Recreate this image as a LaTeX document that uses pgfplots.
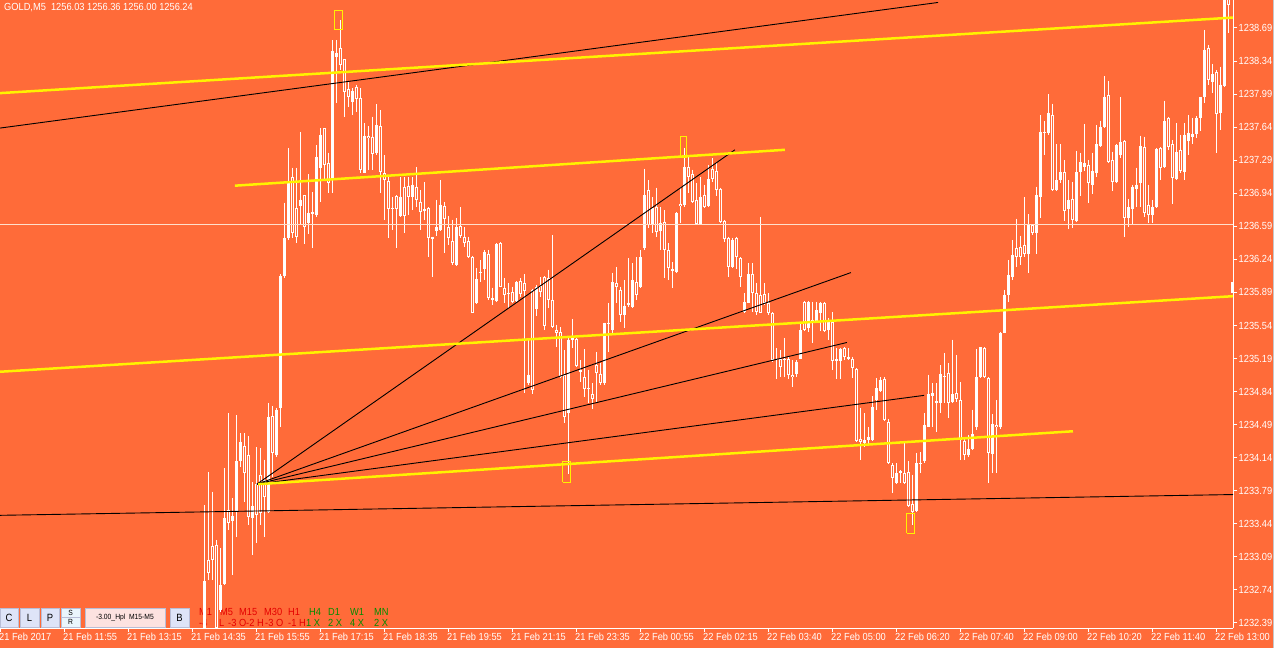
\documentclass[border=0pt]{standalone}
\usepackage{pgfplots}
\pgfplotsset{compat=1.18}
\usepackage{pgfplotstable}
\usepackage{fontspec}
\setmainfont{Liberation Sans}
\newfontfamily\mtfont[FakeStretch=0.9]{Liberation Sans}
\definecolor{bg}{RGB}{255,107,57}
\definecolor{bidc}{RGB}{255,224,204}
\definecolor{btn}{RGB}{222,228,248}
\definecolor{btnb}{RGB}{185,190,215}
\definecolor{btnp}{RGB}{253,226,224}
\definecolor{btns}{RGB}{234,245,252}
\definecolor{mtred}{RGB}{228,0,0}
\definecolor{mtgreen}{RGB}{0,140,0}
\newcommand{\mtf}{\mtfont\fontsize{9.5}{10}\selectfont}
\newcommand{\mtt}{\mtfont\fontsize{10.3}{11}\selectfont}

\pgfplotstableread{
i o h l c
51 1232.34 1233.64 1232.29 1232.83
52 1233.06 1233.99 1232.85 1232.92
53 1233.21 1233.78 1232.85 1233.06
54 1233.22 1233.27 1232.29 1232.34
55 1232.53 1233.18 1232.51 1232.79
56 1232.80 1234.03 1232.79 1233.50
57 1233.59 1234.61 1233.37 1233.45
58 1233.47 1233.71 1232.90 1233.52
59 1233.58 1234.59 1233.30 1234.10
60 1234.11 1234.40 1234.04 1234.31
61 1234.26 1234.40 1233.67 1233.98
62 1234.17 1234.37 1233.43 1233.51
63 1233.50 1233.88 1233.11 1233.63
64 1233.86 1234.25 1233.24 1233.53
65 1233.96 1234.24 1233.43 1233.55
66 1233.90 1234.12 1233.30 1233.72
67 1233.57 1234.72 1233.55 1234.57
68 1234.58 1234.69 1233.94 1234.19
69 1234.17 1234.67 1234.15 1234.65
70 1234.67 1236.08 1234.46 1236.06
71 1236.06 1236.84 1236.04 1236.47
72 1236.47 1237.42 1236.44 1237.06
73 1237.11 1237.21 1236.47 1236.52
74 1236.78 1237.21 1236.41 1236.48
75 1236.80 1237.59 1236.61 1236.87
76 1236.92 1236.92 1236.40 1236.58
77 1236.62 1237.14 1236.51 1236.73
78 1236.74 1236.95 1236.36 1236.72
79 1236.71 1237.45 1236.69 1237.32
80 1237.21 1237.63 1236.85 1237.56
81 1237.63 1237.63 1237.08 1237.24
82 1237.26 1237.37 1236.94 1237.05
83 1237.08 1238.56 1236.94 1238.45
84 1238.38 1238.56 1237.90 1238.43
85 1238.48 1238.77 1238.25 1238.30
86 1238.36 1238.36 1237.75 1238.01
87 1238.04 1238.12 1237.85 1237.96
88 1237.91 1238.05 1237.77 1238.02
89 1238.07 1238.09 1237.80 1237.94
90 1237.95 1238.05 1237.15 1237.19
91 1237.15 1237.68 1237.15 1237.55
92 1237.55 1237.65 1237.19 1237.52
93 1237.54 1237.75 1237.19 1237.36
94 1237.37 1237.88 1237.34 1237.66
95 1237.65 1237.82 1236.94 1237.16
96 1237.15 1237.34 1236.66 1237.08
97 1237.07 1237.13 1236.47 1236.77
98 1236.78 1236.90 1236.55 1236.79
99 1236.91 1236.92 1236.36 1236.77
100 1236.70 1237.11 1236.69 1236.90
101 1237.01 1237.11 1236.52 1236.70
102 1237.02 1237.11 1236.71 1236.90
103 1236.90 1237.11 1236.76 1237.03
104 1237.01 1237.22 1236.79 1236.87
105 1236.85 1236.97 1236.55 1236.74
106 1236.75 1237.06 1236.66 1236.77
107 1236.78 1236.79 1236.26 1236.47
108 1236.46 1236.48 1236.05 1236.48
109 1236.54 1236.87 1236.49 1236.58
110 1236.55 1237.08 1236.54 1236.82
111 1236.80 1236.85 1236.31 1236.67
112 1236.58 1236.70 1236.39 1236.47
113 1236.43 1236.66 1236.18 1236.20
114 1236.18 1236.68 1236.17 1236.58
115 1236.59 1236.79 1236.47 1236.49
116 1236.48 1236.58 1236.37 1236.41
117 1236.43 1236.48 1236.25 1236.26
118 1236.26 1236.28 1235.67 1235.67
119 1235.78 1236.15 1235.77 1236.03
120 1236.11 1236.23 1236.00 1236.12
121 1236.14 1236.34 1236.02 1236.32
122 1236.30 1236.34 1235.81 1235.83
123 1235.81 1235.94 1235.76 1235.83
124 1235.80 1236.41 1235.79 1236.40
125 1236.41 1236.42 1235.95 1235.95
126 1235.94 1236.04 1235.78 1235.86
127 1235.88 1235.99 1235.73 1235.87
128 1235.89 1235.95 1235.78 1235.79
129 1235.80 1236.01 1235.78 1236.00
130 1236.01 1236.04 1235.84 1235.87
131 1235.99 1236.08 1234.83 1235.90
132 1234.93 1235.41 1234.91 1235.02
133 1235.92 1235.93 1234.81 1234.86
134 1235.71 1235.97 1235.64 1235.95
135 1235.96 1236.05 1235.84 1235.89
136 1236.05 1236.06 1235.49 1235.53
137 1236.04 1236.13 1235.73 1235.81
138 1235.81 1236.50 1235.51 1235.52
139 1235.49 1235.55 1235.31 1235.46
140 1235.47 1235.52 1234.98 1234.99
141 1235.02 1235.28 1234.51 1234.57
142 1234.61 1235.41 1233.97 1235.39
143 1235.39 1235.61 1235.30 1235.42
144 1235.40 1235.41 1235.10 1235.11
145 1235.05 1235.17 1234.94 1235.07
146 1234.99 1235.29 1234.78 1234.87
147 1234.87 1235.07 1234.72 1234.88
148 1234.81 1234.93 1234.66 1234.76
149 1235.12 1235.26 1234.72 1235.04
150 1235.03 1235.14 1234.91 1234.93
151 1234.93 1235.57 1234.91 1235.57
152 1235.57 1235.78 1235.26 1235.56
153 1235.49 1236.10 1235.46 1236.00
154 1235.99 1236.16 1235.78 1235.95
155 1235.92 1235.95 1235.58 1235.65
156 1235.65 1236.02 1235.51 1235.75
157 1235.76 1236.25 1235.74 1235.78
158 1235.74 1236.20 1235.73 1236.02
159 1236.00 1236.26 1235.81 1235.86
160 1235.95 1236.34 1235.94 1236.26
161 1236.36 1237.20 1236.34 1236.92
162 1236.97 1237.08 1236.57 1236.60
163 1236.61 1236.90 1236.52 1236.78
164 1236.79 1237.00 1236.48 1236.53
165 1236.54 1236.79 1236.34 1236.63
166 1236.64 1236.76 1236.04 1236.34
167 1236.34 1236.41 1236.02 1236.15
168 1236.14 1236.21 1235.94 1236.12
169 1236.11 1236.74 1236.10 1236.73
170 1236.83 1237.01 1236.62 1236.80
171 1236.82 1237.42 1236.79 1237.22
172 1237.22 1237.32 1236.94 1237.11
173 1237.14 1237.19 1236.84 1236.85
174 1236.87 1237.05 1236.60 1236.61
175 1236.61 1237.11 1236.60 1236.90
176 1236.92 1237.03 1236.78 1236.79
177 1236.80 1237.24 1236.79 1237.09
178 1237.20 1237.31 1237.06 1237.09
179 1237.18 1237.26 1236.91 1236.97
180 1236.99 1237.00 1236.62 1236.64
181 1236.65 1236.66 1236.42 1236.46
182 1236.47 1236.48 1236.05 1236.16
183 1236.16 1236.47 1236.15 1236.44
184 1236.47 1236.48 1236.14 1236.26
185 1236.25 1236.26 1235.95 1236.05
186 1235.68 1235.88 1235.67 1235.79
187 1235.78 1236.20 1235.78 1236.08
188 1236.09 1236.20 1235.68 1235.88
189 1235.88 1235.99 1235.65 1235.68
190 1235.86 1236.69 1235.67 1235.67
191 1235.87 1235.99 1235.76 1235.78
192 1235.78 1235.88 1235.65 1235.67
193 1235.67 1235.68 1235.15 1235.17
194 1235.18 1235.30 1234.97 1235.17
195 1235.18 1235.28 1234.99 1235.10
196 1235.17 1235.41 1234.99 1235.19
197 1235.18 1235.22 1234.97 1235.02
198 1235.02 1235.17 1234.89 1234.99
199 1235.03 1235.17 1234.99 1235.15
200 1235.19 1235.57 1235.18 1235.49
201 1235.79 1235.80 1235.48 1235.49
202 1235.51 1235.80 1235.47 1235.79
203 1235.57 1235.79 1235.35 1235.60
204 1235.58 1235.79 1235.57 1235.70
205 1235.67 1235.79 1235.48 1235.78
206 1235.78 1235.79 1235.47 1235.48
207 1235.49 1235.62 1235.39 1235.59
208 1235.58 1235.68 1235.07 1235.16
209 1235.16 1235.30 1234.97 1235.18
210 1235.16 1235.30 1234.97 1235.29
211 1235.30 1235.31 1235.17 1235.21
212 1235.18 1235.30 1235.17 1235.21
213 1235.19 1235.21 1234.98 1235.09
214 1235.08 1235.09 1234.31 1234.32
215 1234.34 1234.67 1234.12 1234.31
216 1234.30 1234.61 1234.25 1234.33
217 1234.33 1234.46 1234.28 1234.36
218 1234.33 1234.79 1234.32 1234.68
219 1234.75 1234.98 1234.65 1234.88
220 1234.85 1234.99 1234.84 1234.96
221 1234.97 1234.99 1234.53 1234.54
222 1234.52 1234.55 1234.07 1234.08
223 1234.06 1234.08 1233.77 1233.93
224 1233.87 1234.08 1233.86 1233.98
225 1233.98 1234.01 1233.87 1234.00
226 1233.98 1234.31 1233.86 1233.87
227 1233.99 1234.10 1233.62 1233.63
228 1233.65 1233.96 1233.43 1233.57
229 1233.58 1234.19 1233.57 1234.08
230 1234.07 1234.20 1233.98 1234.08
231 1234.10 1234.61 1234.08 1234.49
232 1234.46 1235.02 1234.46 1234.81
233 1234.79 1234.93 1234.46 1234.82
234 1234.72 1234.93 1234.41 1234.74
235 1234.72 1235.12 1234.61 1235.03
236 1235.01 1235.25 1234.72 1235.02
237 1235.04 1235.14 1234.56 1234.72
238 1234.73 1235.39 1234.72 1234.81
239 1234.82 1235.23 1234.73 1234.76
240 1234.75 1234.94 1234.12 1234.33
241 1234.32 1234.36 1234.12 1234.17
242 1234.17 1234.38 1234.15 1234.23
243 1234.23 1234.65 1234.22 1234.39
244 1234.46 1235.29 1234.43 1234.99
245 1234.99 1235.31 1234.98 1235.31
246 1235.30 1235.31 1234.98 1234.99
247 1234.98 1234.99 1233.87 1234.19
248 1234.18 1234.60 1233.98 1234.50
249 1234.49 1234.75 1233.98 1234.46
250 1234.46 1235.47 1234.44 1235.46
251 1235.46 1235.92 1235.46 1235.86
252 1235.86 1236.23 1235.79 1236.07
253 1236.05 1236.44 1236.02 1236.29
254 1236.36 1236.67 1236.16 1236.26
255 1236.37 1236.49 1236.18 1236.27
256 1236.39 1236.90 1236.26 1236.30
257 1236.30 1236.72 1236.10 1236.61
258 1236.60 1236.61 1236.50 1236.52
259 1236.52 1237.01 1236.30 1236.92
260 1236.90 1237.77 1236.68 1237.59
261 1237.59 1237.70 1237.34 1237.60
262 1237.58 1237.99 1237.56 1237.79
263 1237.77 1237.89 1236.96 1236.97
264 1236.97 1237.46 1236.96 1237.08
265 1237.08 1237.46 1237.05 1237.16
266 1237.16 1237.29 1236.65 1236.75
267 1236.77 1237.08 1236.56 1236.87
268 1236.88 1237.06 1236.57 1236.66
269 1236.65 1237.39 1236.64 1237.16
270 1237.16 1237.37 1236.91 1237.27
271 1237.22 1237.67 1237.18 1237.26
272 1237.24 1237.29 1236.84 1237.05
273 1237.03 1237.37 1236.93 1237.18
274 1237.15 1237.66 1237.11 1237.46
275 1237.44 1237.71 1237.43 1237.64
276 1237.64 1238.18 1237.63 1237.96
277 1237.98 1238.13 1237.26 1237.27
278 1237.29 1237.38 1236.96 1237.06
279 1237.06 1237.46 1237.05 1237.45
280 1237.34 1237.96 1237.31 1237.48
281 1237.49 1237.50 1236.48 1236.68
282 1236.68 1236.88 1236.58 1236.79
283 1236.77 1237.03 1236.61 1237.01
284 1236.98 1237.21 1236.79 1237.03
285 1237.05 1237.55 1236.79 1237.44
286 1237.43 1237.54 1236.69 1236.73
287 1236.82 1237.03 1236.62 1236.71
288 1236.71 1236.87 1236.62 1236.79
289 1236.79 1237.42 1236.78 1237.41
290 1237.42 1237.43 1237.08 1237.21
291 1237.22 1237.92 1237.21 1237.71
292 1237.74 1237.75 1237.40 1237.43
293 1237.46 1237.50 1236.83 1237.10
294 1237.09 1237.68 1237.08 1237.38
295 1237.40 1237.56 1237.15 1237.18
296 1237.16 1237.68 1237.08 1237.56
297 1237.49 1237.77 1237.34 1237.58
298 1237.54 1237.74 1237.46 1237.57
299 1237.57 1237.76 1237.52 1237.74
300 1237.74 1237.96 1237.60 1237.96
301 1237.96 1238.67 1237.90 1238.46
302 1238.48 1238.51 1238.09 1238.14
303 1238.12 1238.31 1238.00 1238.20
304 1238.22 1238.24 1237.37 1237.78
305 1237.79 1238.28 1237.61 1238.09
306 1238.07 1239.30 1238.07 1239.20
307 1239.09 1239.30 1238.64 1238.93
308 1235.88 1236.00 1235.88 1236.00
}\candles

\begin{document}
\begin{tikzpicture}[x=1pt,y=1pt]
\useasboundingbox (0,0) rectangle (1274,648);
\fill[bg] (0,0) rectangle (1274,648);
\fill[black!22] (1272.5,0) rectangle (1274,648);
% title
\node[anchor=west, inner sep=0pt, text=white, font=\mtt] at (4,640) {GOLD,M5\ \ 1256.03 1256.36 1256.00 1256.24};
% buttons
\begin{scope}[draw=btnb, line width=0.6pt]
\filldraw[fill=btn] (0.3,21) rectangle (18,40);
\filldraw[fill=btn] (20,21) rectangle (39,40);
\filldraw[fill=btn] (41,21) rectangle (59,40);
\filldraw[fill=btns] (61,31) rectangle (80,40);
\filldraw[fill=btns] (61,21) rectangle (80,30.5);
\filldraw[fill=btnp] (85,21) rectangle (165,40);
\filldraw[fill=btn] (170,21) rectangle (189,40);
\end{scope}
\node[font=\mtfont\fontsize{10.5}{11}\selectfont] at (9,30.5) {C};
\node[font=\mtfont\fontsize{10.5}{11}\selectfont] at (29.5,30.5) {L};
\node[font=\mtfont\fontsize{10.5}{11}\selectfont] at (50,30.5) {P};
\node[font=\mtfont\fontsize{7.5}{8}\selectfont] at (70.5,35.5) {S};
\node[font=\mtfont\fontsize{7.5}{8}\selectfont] at (70.5,25.8) {R};
\node[font=\mtfont\fontsize{7.5}{8}\selectfont] at (125,30.5) {-3.00\_Hpl\ \ M15-M5};
\node[font=\mtfont\fontsize{10.5}{11}\selectfont] at (179.5,30.5) {B};
% timeframe indicator texts
\begin{scope}[every node/.style={anchor=west, inner sep=0pt, font=\mtt}]
\node[text=mtred] at (199,36) {M1};
\node[text=mtred] at (220,36) {M5};
\node[text=mtred] at (239,36) {M15};
\node[text=mtred] at (264,36) {M30};
\node[text=mtred] at (288,36) {H1};
\node[text=mtgreen] at (309,36) {H4};
\node[text=mtgreen] at (328,36) {D1};
\node[text=mtgreen] at (350,36) {W1};
\node[text=mtgreen] at (374,36) {MN};
\node[text=mtred] at (199,25.5) {-4};
\node[text=mtred] at (219,25.5) {L};
\node[text=mtred] at (228,25.5) {-3 O-2 H};
\node[text=mtred] at (265,25.5) {-3 O};
\node[text=mtred] at (288,25.5) {-1 H};
\node[text=mtgreen] at (306,25.5) {1 X};
\node[text=mtgreen] at (328,25.5) {2 X};
\node[text=mtgreen] at (350,25.5) {4 X};
\node[text=mtgreen] at (374,25.5) {2 X};
\end{scope}
\begin{axis}[
  at={(0pt,20pt)}, anchor=south west,
  scale only axis, width=1233pt, height=628pt,
  xmin=-0.125, xmax=308.125, ymin=1232.337, ymax=1238.986,
  axis x line*=bottom, axis y line*=right,
  axis line style={white, line width=1pt, -},
  tick align=outside, major tick length=4pt,
  tick style={white, line width=1pt},
  minor tick num=0,
  xtick={0,16,...,304},
  xticklabels={21 Feb 2017,21 Feb 11:55,21 Feb 13:15,21 Feb 14:35,21 Feb 15:55,21 Feb 17:15,21 Feb 18:35,21 Feb 19:55,21 Feb 21:15,21 Feb 23:35,22 Feb 00:55,22 Feb 02:15,22 Feb 03:40,22 Feb 05:00,22 Feb 06:20,22 Feb 07:40,22 Feb 09:00,22 Feb 10:20,22 Feb 11:40,22 Feb 13:00},
  ytick={1232.39,1232.74,1233.09,1233.44,1233.79,1234.14,1234.49,1234.84,1235.19,1235.54,1235.89,1236.24,1236.59,1236.94,1237.29,1237.64,1237.99,1238.34,1238.69},
  yticklabels={1232.39,1232.74,1233.09,1233.44,1233.79,1234.14,1234.49,1234.84,1235.19,1235.54,1235.89,1236.24,1236.59,1236.94,1237.29,1237.64,1237.99,1238.34,1238.69},
  tick label style={font=\mtt, text=white},
  xticklabel style={anchor=north west, inner sep=0pt, xshift=-1.5pt, yshift=-1pt},
  yticklabel style={anchor=west, inner sep=0pt, xshift=1.5pt},
  clip=true,
]
% wicks
\addplot[draw=none, mark=none, error bars/.cd, y dir=minus, y explicit, error mark=none,
  error bar style={draw=white, line width=1pt, solid}]
  table[x=i, y=h, y error minus expr={\thisrow{h}-\thisrow{l}}] {\candles};
% bodies
\addplot[draw=none, mark=none, error bars/.cd, y dir=minus, y explicit, error mark=none,
  error bar style={draw=white, line width=3pt, solid}]
  table[x=i, y expr={max(\thisrow{o},\thisrow{c})}, y error minus expr={max(abs(\thisrow{o}-\thisrow{c}),0.0106)}] {\candles};
% hollow interior of bear candles
\addplot[draw=none, mark=none, error bars/.cd, y dir=minus, y explicit, error mark=none,
  error bar style={draw=bg, line width=1pt, solid}]
  table[x=i, y expr={\thisrow{o}-0.0106}, y error minus expr={max(\thisrow{o}-\thisrow{c}-0.0212,0)}] {\candles};
% bid line
\addplot[bidc, line width=0.8pt] coordinates {(-0.125,1236.61) (308.125,1236.61)};
% black trend lines
\addplot[black, line width=0.9pt] coordinates {(-0.125,1237.63) (234.4,1238.96)};
\addplot[black, line width=0.9pt] coordinates {(-0.125,1233.53) (308.125,1233.75)};
% fan lines
\addplot[black, line width=0.9pt] coordinates {(64.1,1233.86) (183.6,1237.40)};
\addplot[black, line width=0.9pt] coordinates {(64.1,1233.86) (212.6,1236.10)};
\addplot[black, line width=0.9pt] coordinates {(64.1,1233.86) (211.6,1235.36)};
\addplot[black, line width=0.9pt] coordinates {(64.1,1233.86) (230.9,1234.80)};
% yellow channel lines
\addplot[yellow, line width=2.5pt] coordinates {(-0.125,1238.00) (308.125,1238.80)};
\addplot[yellow, line width=2.5pt] coordinates {(58.6,1237.02) (196.1,1237.40)};
\addplot[yellow, line width=2.5pt] coordinates {(-0.125,1235.05) (308.125,1235.85)};
\addplot[yellow, line width=2.5pt] coordinates {(64.4,1233.86) (268.1,1234.42)};
% fractal boxes
\addplot[yellow, line width=0.9pt] coordinates {(83.6,1238.67) (85.6,1238.67) (85.6,1238.88) (83.6,1238.88) (83.6,1238.67)};
\addplot[yellow, line width=0.9pt] coordinates {(169.9,1237.32) (171.6,1237.32) (171.6,1237.54) (169.9,1237.54) (169.9,1237.32)};
\addplot[yellow, line width=0.9pt] coordinates {(140.6,1233.88) (142.6,1233.88) (142.6,1234.10) (140.6,1234.10) (140.6,1233.88)};
\addplot[yellow, line width=0.9pt] coordinates {(226.6,1233.34) (228.4,1233.34) (228.4,1233.55) (226.6,1233.55) (226.6,1233.34)};
\end{axis}
\end{tikzpicture}
\end{document}
